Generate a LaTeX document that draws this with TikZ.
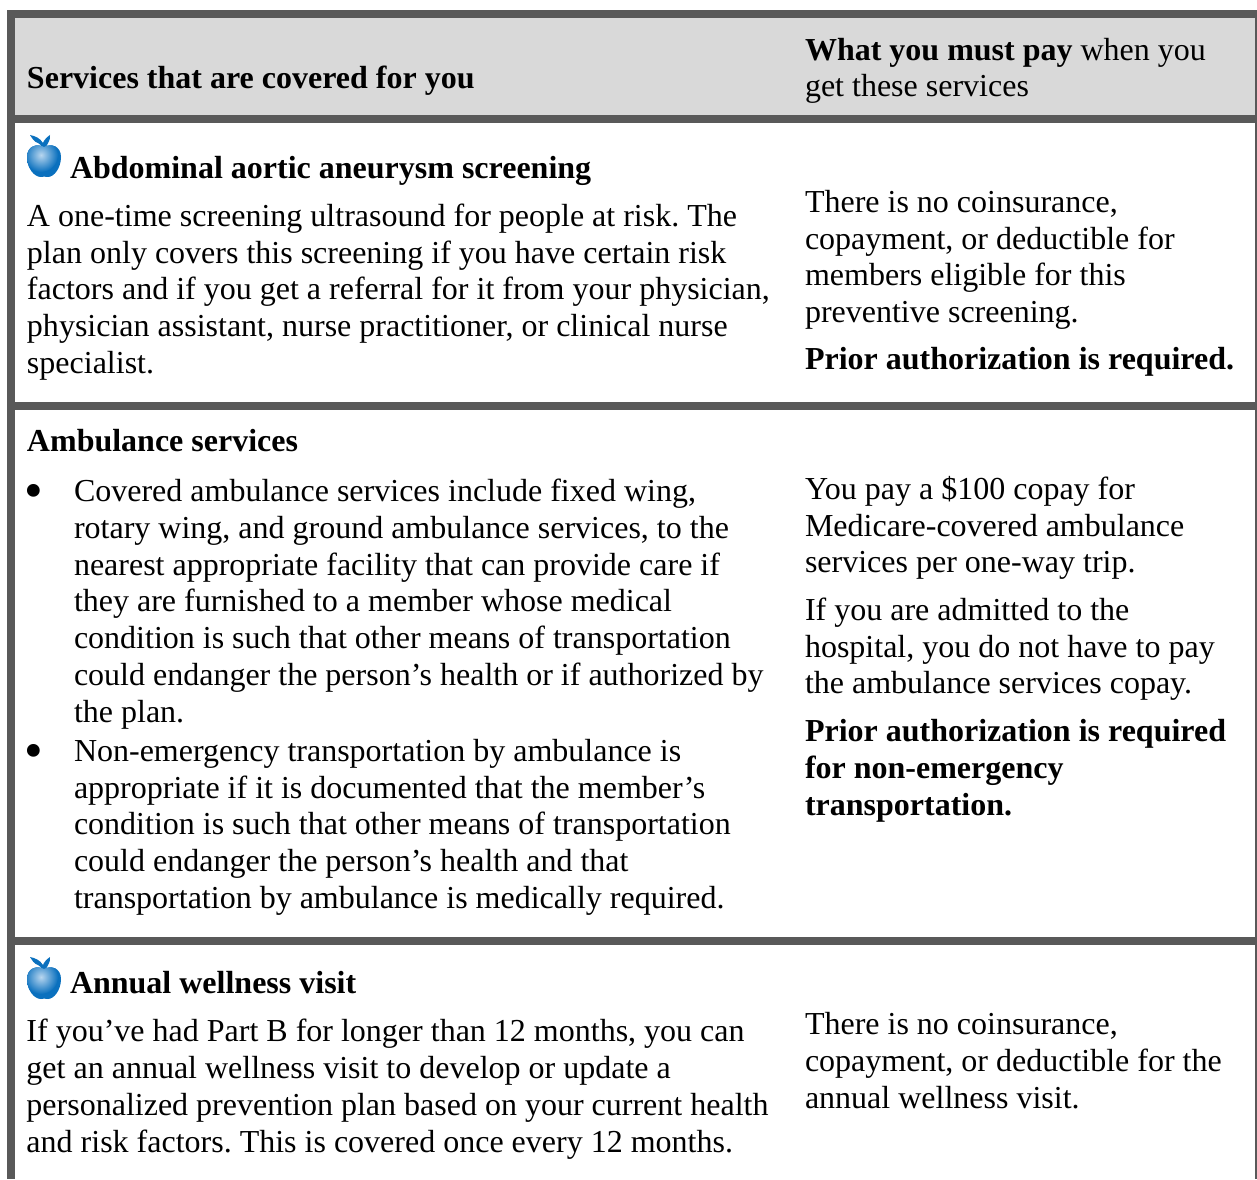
\documentclass[tikz,border=0pt]{standalone}
\usepackage{fontspec}
\setmainfont{Liberation Serif}
\frenchspacing
\definecolor{barc}{HTML}{595959}
\definecolor{headc}{HTML}{D9D9D9}
\definecolor{applec}{HTML}{0A70BE}
\definecolor{applelight}{HTML}{B8D6EF}
\tikzset{
  x=0.375pt,y=-0.375pt,
  txt/.style={anchor=base west,inner sep=0pt,outer sep=0pt,font=\fontsize{12}{14}\selectfont,text=black},
  hd/.style={txt,font=\fontsize{12}{14}\selectfont\bfseries},
  bul/.style={txt,font=\fontsize{20}{20}\selectfont},
  bar/.style={fill=barc,draw=none}
}
\newcommand{\myapple}[2]{%
\begin{scope}[shift={(#1,#2)}]
  \fill[applec] (15,14) .. controls (15,11) and (14,10) .. (11,8) .. controls (7,7) and (5,3) .. (3,0) .. controls (8,1) and (13,3) .. (16,8) .. controls (17,5) and (20,2) .. (23,0) .. controls (24,5) and (20,9) .. (18,14) -- cycle;
  \begin{scope}
    \clip (17,12) .. controls (24,8) and (34,11) .. (34,22) .. controls (34,33) and (27,42) .. (21,42) .. controls (18,42) and (16,41) .. (14,42) .. controls (7,42) and (0,33) .. (0,22) .. controls (0,11) and (10,8) .. (17,12) -- cycle;
    \fill[applec] (-2,5) rectangle (36,44);
    \shade[inner color=applelight,outer color=applec] (14,20) circle[radius=17];
  \end{scope}
\end{scope}}
\begin{document}
\begin{tikzpicture}
\useasboundingbox (0,0) rectangle (1257,1179);
\fill[white] (0,0) rectangle (1257,1179);
\fill[headc] (15,18) rectangle (1255,115);
\fill[bar] (7,10) rectangle (1257,18);
\fill[bar] (7,10) rectangle (15,1179);
\fill[bar] (7,115) rectangle (1257,123);
\fill[bar] (7,402) rectangle (1257,410);
\fill[bar] (7,937) rectangle (1257,945);
\fill[bar] (1255,10) rectangle (1257,1179);

\node[hd] (h1) at (27,89) {Services that are covered for you};
\node[txt] (h2a) at (805,61) {\textbf{What you must pay} when you};
\node[txt] (h2b) at (805,97) {get these services};

\myapple{27}{135}
\node[hd] (a0) at (70,179) {Abdominal aortic aneurysm screening};
\node[txt] (a1) at (27,227) {A one-time screening ultrasound for people at risk. The};
\node[txt] (a2) at (27,264) {plan only covers this screening if you have certain risk};
\node[txt] (a3) at (27,300) {factors and if you get a referral for it from your physician,};
\node[txt] (a4) at (27,337) {physician assistant, nurse practitioner, or clinical nurse};
\node[txt] (a5) at (27,373.5) {specialist.};
\node[txt] (ar1) at (805,213) {There is no coinsurance,};
\node[txt] (ar2) at (805,250) {copayment, or deductible for};
\node[txt] (ar3) at (805,286) {members eligible for this};
\node[txt] (ar4) at (805,323) {preventive screening.};
\node[hd] (ar5) at (805,369) {Prior authorization is required.};

\node[hd] (b0) at (27,451) {Ambulance services};
\node[bul] (bb1) at (24.5,508.5) {•};
\node[txt] (b1) at (74,501) {Covered ambulance services include fixed wing,};
\node[txt] (b2) at (74,538) {rotary wing, and ground ambulance services, to the};
\node[txt] (b3) at (74,575) {nearest appropriate facility that can provide care if};
\node[txt] (b4) at (74,611) {they are furnished to a member whose medical};
\node[txt] (b5) at (74,648) {condition is such that other means of transportation};
\node[txt] (b6) at (74,685) {could endanger the person’s health or if authorized by};
\node[txt] (b7) at (74,722) {the plan.};
\node[bul] (bb2) at (24.5,768.5) {•};
\node[txt] (b8) at (74,761) {Non-emergency transportation by ambulance is};
\node[txt] (b9) at (74,798) {appropriate if it is documented that the member’s};
\node[txt] (b10) at (74,834) {condition is such that other means of transportation};
\node[txt] (b11) at (74,871) {could endanger the person’s health and that};
\node[txt] (b12) at (74,908) {transportation by ambulance is medically required.};
\node[txt] (br1) at (805,499) {You pay a \$100 copay for};
\node[txt] (br2) at (805,536) {Medicare-covered ambulance};
\node[txt] (br3) at (805,572) {services per one-way trip.};
\node[txt] (br4) at (805,620) {If you are admitted to the};
\node[txt] (br5) at (805,657) {hospital, you do not have to pay};
\node[txt] (br6) at (805,693) {the ambulance services copay.};
\node[hd] (br7) at (805,741) {Prior authorization is required};
\node[hd] (br8) at (805,778) {for non-emergency};
\node[hd] (br9) at (805,815) {transportation.};

\myapple{27}{957}
\node[hd] (c0) at (70,993) {Annual wellness visit};
\node[txt] (c1) at (26.5,1041) {If you’ve had Part B for longer than 12 months, you can};
\node[txt] (c2) at (26.5,1078) {get an annual wellness visit to develop or update a};
\node[txt] (c3) at (26.5,1115) {personalized prevention plan based on your current health};
\node[txt] (c4) at (26.5,1152) {and risk factors. This is covered once every 12 months.};
\node[txt] (cr1) at (805,1034) {There is no coinsurance,};
\node[txt] (cr2) at (805,1071) {copayment, or deductible for the};
\node[txt] (cr3) at (805,1108) {annual wellness visit.};
\end{tikzpicture}
\end{document}
